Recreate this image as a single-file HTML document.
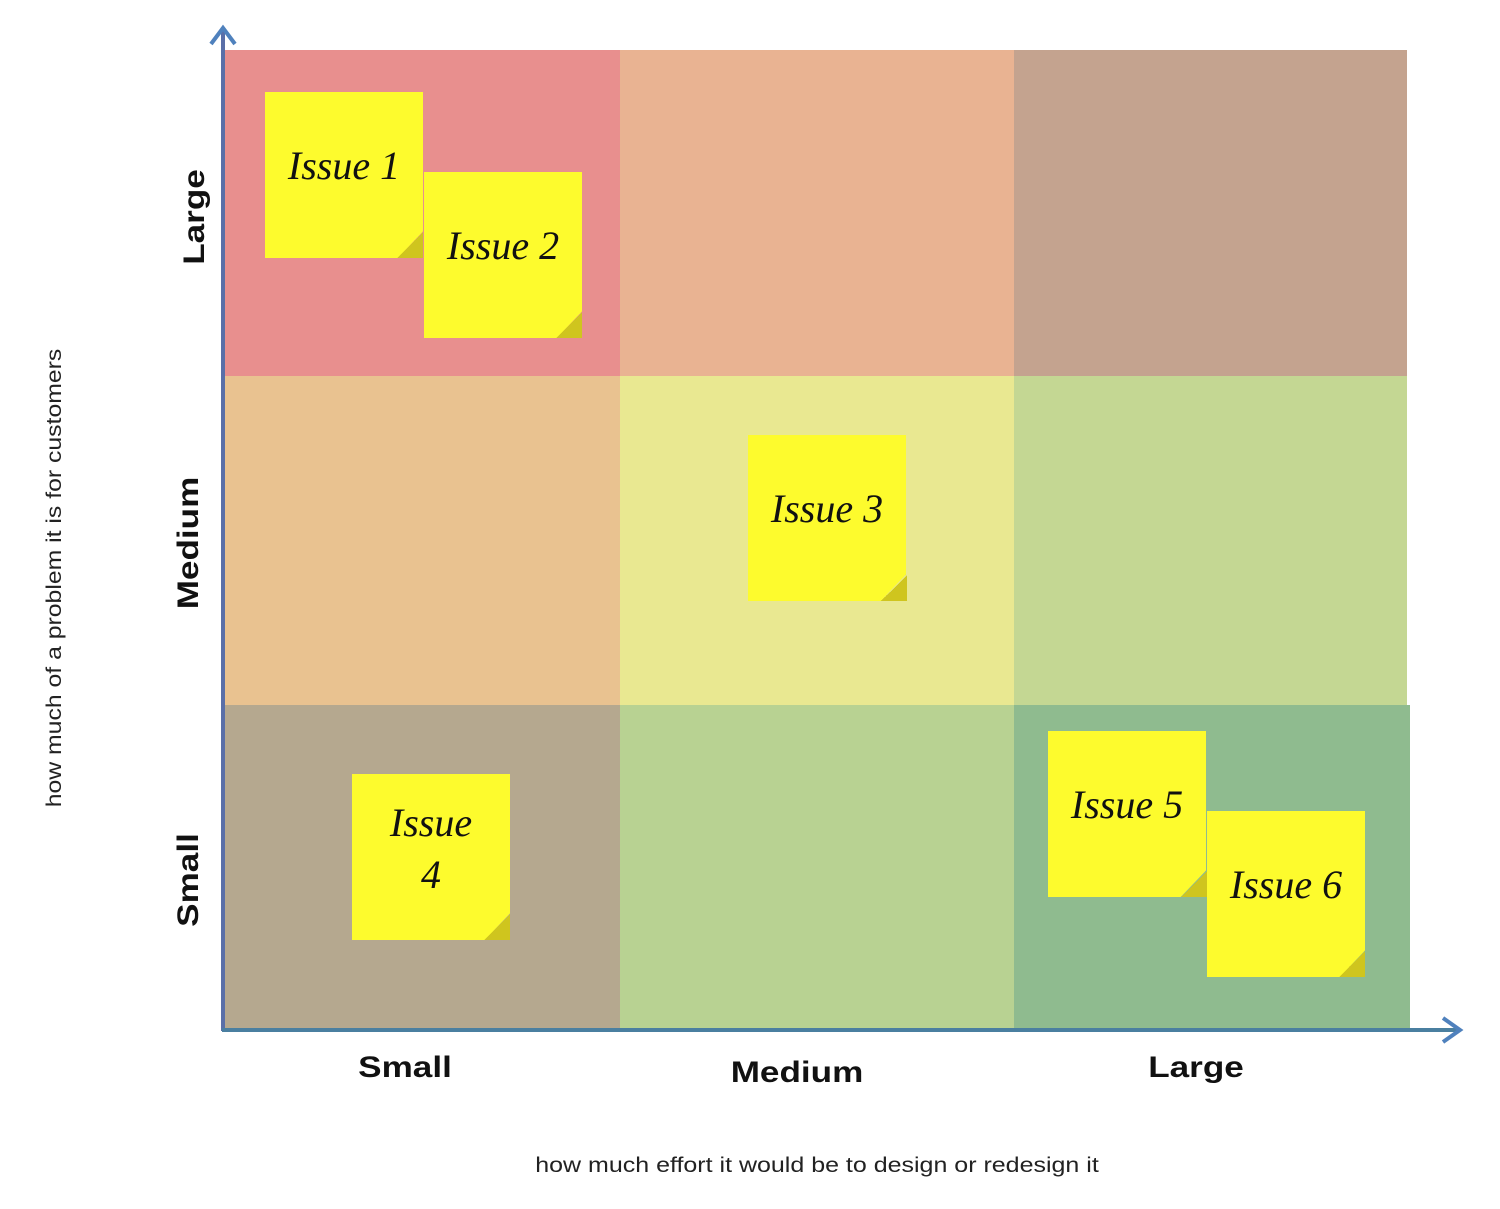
<!DOCTYPE html>
<html><head><style>
body{margin:0;width:1500px;height:1209px;background:#fff;position:relative;overflow:hidden;font-family:"Liberation Sans",sans-serif}
.c{position:absolute}
.n{position:absolute;width:158px;height:166px;background:#fdfb2d;box-shadow:2px 3px 4px rgba(0,0,0,.35);clip-path:polygon(0 0,100% 0,100% 84%,84% 100%,0 100%);}
.f{position:absolute;width:26px;height:26px;background:linear-gradient(135deg,transparent 50%,#cfc51e 50%);}
.t{position:absolute;font-family:"Liberation Serif",serif;font-style:italic;font-size:40px;color:#111;white-space:nowrap;text-align:center;line-height:52px}
.lab{position:absolute;font-weight:bold;font-size:30px;color:#111;white-space:nowrap}
.rot{transform:translate(-50%,-50%) rotate(-90deg) scaleX(1.17);}
.hz{transform:translate(-50%,-50%) scaleX(1.17);}
</style></head><body>
<div class="c" style="left:222px;top:50px;width:398px;height:326px;background:#e88f8e"></div>
<div class="c" style="left:620px;top:50px;width:394px;height:326px;background:#e9b392"></div>
<div class="c" style="left:1014px;top:50px;width:393px;height:326px;background:#c4a38f"></div>
<div class="c" style="left:222px;top:376px;width:398px;height:329px;background:#e9c290"></div>
<div class="c" style="left:620px;top:376px;width:394px;height:329px;background:#e9e891"></div>
<div class="c" style="left:1014px;top:376px;width:393px;height:329px;background:#c4d793"></div>
<div class="c" style="left:222px;top:705px;width:398px;height:325px;background:#b5a88f"></div>
<div class="c" style="left:620px;top:705px;width:394px;height:325px;background:#b8d292"></div>
<div class="c" style="left:1014px;top:705px;width:396px;height:325px;background:#8fbb8f"></div>

<svg class="c" style="left:0;top:0" width="1500" height="1209">
<line x1="223" y1="1031" x2="223" y2="30" stroke="#5a6fa8" stroke-width="4"/>
<polyline points="211,44 223,28 235,44" fill="none" stroke="#4f81bd" stroke-width="4"/>
<line x1="222" y1="1030" x2="1458" y2="1030" stroke="#4a7fa0" stroke-width="4"/>
<polyline points="1443,1018 1460,1030 1443,1042" fill="none" stroke="#4f81bd" stroke-width="4"/>
</svg>

<div class="n" style="left:265px;top:92px"></div><div class="f" style="left:397px;top:232px"></div>
<div class="t" style="left:265px;top:140px;width:158px">Issue 1</div>
<div class="n" style="left:424px;top:172px"></div><div class="f" style="left:556px;top:312px"></div>
<div class="t" style="left:424px;top:220px;width:158px">Issue 2</div>
<div class="n" style="left:748px;top:435px"></div><div class="f" style="left:881px;top:575px"></div>
<div class="t" style="left:748px;top:483px;width:158px">Issue 3</div>
<div class="n" style="left:352px;top:774px"></div><div class="f" style="left:484px;top:914px"></div>
<div class="t" style="left:352px;top:797px;width:158px">Issue<br>4</div>
<div class="n" style="left:1048px;top:731px"></div><div class="f" style="left:1181px;top:871px"></div>
<div class="t" style="left:1048px;top:779px;width:158px">Issue 5</div>
<div class="n" style="left:1207px;top:811px"></div><div class="f" style="left:1339px;top:951px"></div>
<div class="t" style="left:1207px;top:859px;width:158px">Issue 6</div>

<div class="lab rot" style="left:195px;top:217px">Large</div>
<div class="lab rot" style="left:189px;top:543px">Medium</div>
<div class="lab rot" style="left:189px;top:880px">Small</div>
<div class="lab hz" style="left:405px;top:1068px">Small</div>
<div class="lab hz" style="left:797px;top:1073px">Medium</div>
<div class="lab hz" style="left:1196px;top:1068px">Large</div>
<div class="c" style="left:55px;top:578px;font-size:21px;color:#222;white-space:nowrap;transform:translate(-50%,-50%) rotate(-90deg) scaleX(1.18)">how much of a problem it is for customers</div>
<div class="c" style="left:817px;top:1166px;transform:translate(-50%,-50%) scaleX(1.19);font-size:21px;color:#222;white-space:nowrap">how much effort it would be to design or redesign it</div>
</body></html>
